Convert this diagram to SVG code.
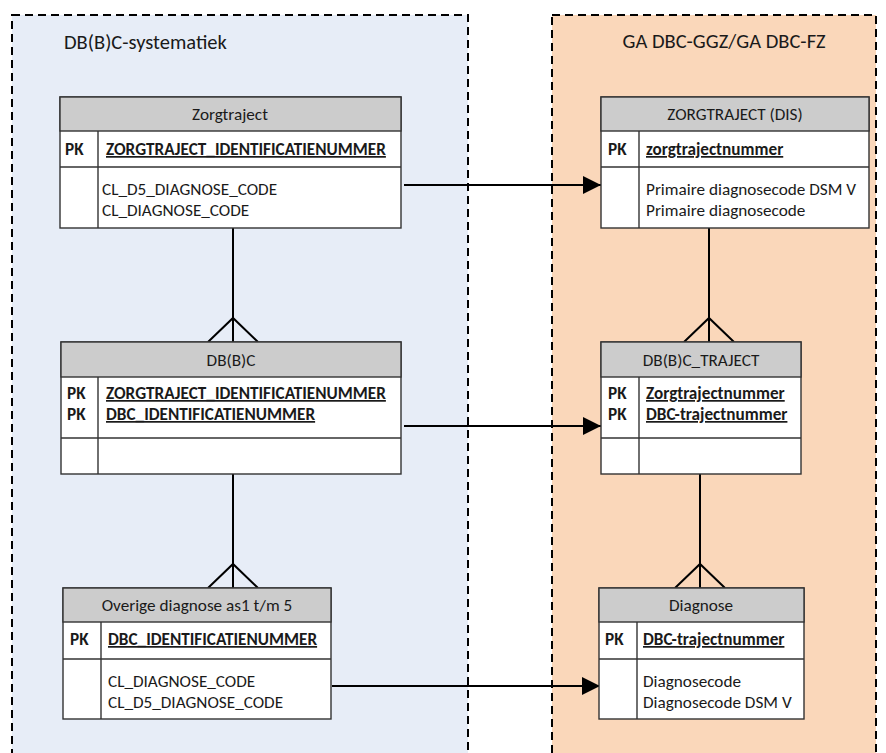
<svg xmlns="http://www.w3.org/2000/svg" width="886" height="753" viewBox="0 0 886 753">
<defs>
<style>
text{font-family:Carlito,Lato,"Liberation Sans",sans-serif;fill:#1a1a1a}
.title{font-size:20.5px}
.hdr{font-size:17.2px;text-anchor:middle}
.b{font-size:17.2px;font-weight:bold}
.u{text-decoration:underline}
.r{font-size:17.2px}
.cont{stroke:#000;stroke-width:2;stroke-dasharray:8 5}
.box{fill:#fff;stroke:#333;stroke-width:1.4}
.head{fill:#ccc;stroke:#333;stroke-width:1.4}
.ln{stroke:#333;stroke-width:1.4;fill:none}
.con{stroke:#000;stroke-width:2;fill:none}
</style>
<marker id="arr" markerWidth="9" markerHeight="9" refX="9" refY="4.5" orient="auto" markerUnits="strokeWidth">
<path d="M0,0 L9,4.5 L0,9 Z" fill="#000"/>
</marker>
</defs>

<g id="containers">
<rect x="12" y="15" width="456" height="760" fill="#E7EDF7" class="cont"/>
<rect x="552" y="15" width="324" height="760" fill="#FAD7BA" class="cont"/>
<text class="title" x="64" y="49">DB(B)C-systematiek</text>
<text class="title" x="724" y="48" text-anchor="middle">GA DBC-GGZ/GA DBC-FZ</text>
</g>

<g id="connectors">
<line class="con" x1="404" y1="185" x2="601" y2="185" marker-end="url(#arr)"/>
<line class="con" x1="404" y1="426" x2="601" y2="426" marker-end="url(#arr)"/>
<line class="con" x1="332" y1="686" x2="600" y2="686" marker-end="url(#arr)"/>
<line class="con" x1="233" y1="228" x2="233" y2="342"/>
<path class="con" d="M208,342 L233,318 L258,342"/>
<line class="con" x1="233" y1="474" x2="233" y2="588"/>
<path class="con" d="M208,588 L233,564 L258,588"/>
<line class="con" x1="709" y1="228" x2="709" y2="342"/>
<path class="con" d="M684,342 L709,318 L734,342"/>
<line class="con" x1="700" y1="474" x2="700" y2="588"/>
<path class="con" d="M675,588 L700,564 L725,588"/>
</g>

<g id="zorgtraject">
<rect class="box" x="60" y="97" width="341" height="131"/>
<rect class="head" x="60" y="97" width="341" height="34"/>
<line class="ln" x1="60" y1="167" x2="401" y2="167"/>
<line class="ln" x1="98" y1="131" x2="98" y2="228"/>
<text class="hdr" x="230" y="120">Zorgtraject</text>
<text class="b" x="65" y="155">PK</text>
<text class="b u" x="106" y="155">ZORGTRAJECT_IDENTIFICATIENUMMER</text>
<text class="r" x="102" y="195">CL_D5_DIAGNOSE_CODE</text>
<text class="r" x="102" y="216">CL_DIAGNOSE_CODE</text>
</g>

<g id="dbbc">
<rect class="box" x="61" y="342" width="340" height="132"/>
<rect class="head" x="61" y="342" width="340" height="35"/>
<line class="ln" x1="61" y1="438" x2="401" y2="438"/>
<line class="ln" x1="98" y1="377" x2="98" y2="474"/>
<text class="hdr" x="231" y="366">DB(B)C</text>
<text class="b" x="67" y="399">PK</text>
<text class="b" x="67" y="420">PK</text>
<text class="b u" x="106" y="399">ZORGTRAJECT_IDENTIFICATIENUMMER</text>
<text class="b u" x="106" y="420">DBC_IDENTIFICATIENUMMER</text>
</g>

<g id="overige">
<rect class="box" x="63" y="588" width="268" height="131"/>
<rect class="head" x="63" y="588" width="268" height="34"/>
<line class="ln" x1="63" y1="659" x2="331" y2="659"/>
<line class="ln" x1="101" y1="622" x2="101" y2="719"/>
<text class="hdr" x="197" y="611">Overige diagnose as1 t/m 5</text>
<text class="b" x="70" y="645">PK</text>
<text class="b u" x="108" y="645">DBC_IDENTIFICATIENUMMER</text>
<text class="r" x="108" y="687">CL_DIAGNOSE_CODE</text>
<text class="r" x="108" y="708">CL_D5_DIAGNOSE_CODE</text>
</g>

<g id="zorgtraject-dis">
<rect class="box" x="601" y="97" width="268" height="131"/>
<rect class="head" x="601" y="97" width="268" height="34"/>
<line class="ln" x1="601" y1="167" x2="869" y2="167"/>
<line class="ln" x1="639" y1="131" x2="639" y2="228"/>
<text class="hdr" x="735" y="120">ZORGTRAJECT (DIS)</text>
<text class="b" x="608" y="155">PK</text>
<text class="b u" x="646" y="155">zorgtrajectnummer</text>
<text class="r" x="646" y="195">Primaire diagnosecode DSM V</text>
<text class="r" x="646" y="216">Primaire diagnosecode</text>
</g>

<g id="dbbc-traject">
<rect class="box" x="601" y="342" width="200" height="132"/>
<rect class="head" x="601" y="342" width="200" height="35"/>
<line class="ln" x1="601" y1="438" x2="801" y2="438"/>
<line class="ln" x1="639" y1="377" x2="639" y2="474"/>
<text class="hdr" x="701" y="366">DB(B)C_TRAJECT</text>
<text class="b" x="608" y="399">PK</text>
<text class="b" x="608" y="420">PK</text>
<text class="b u" x="646" y="399">Zorgtrajectnummer</text>
<text class="b u" x="646" y="420">DBC-trajectnummer</text>
</g>

<g id="diagnose">
<rect class="box" x="599" y="588" width="205" height="131"/>
<rect class="head" x="599" y="588" width="205" height="34"/>
<line class="ln" x1="599" y1="659" x2="804" y2="659"/>
<line class="ln" x1="637" y1="622" x2="637" y2="719"/>
<text class="hdr" x="701" y="611">Diagnose</text>
<text class="b" x="605" y="645">PK</text>
<text class="b u" x="643" y="645">DBC-trajectnummer</text>
<text class="r" x="643" y="687">Diagnosecode</text>
<text class="r" x="643" y="708">Diagnosecode DSM V</text>
</g>
</svg>
